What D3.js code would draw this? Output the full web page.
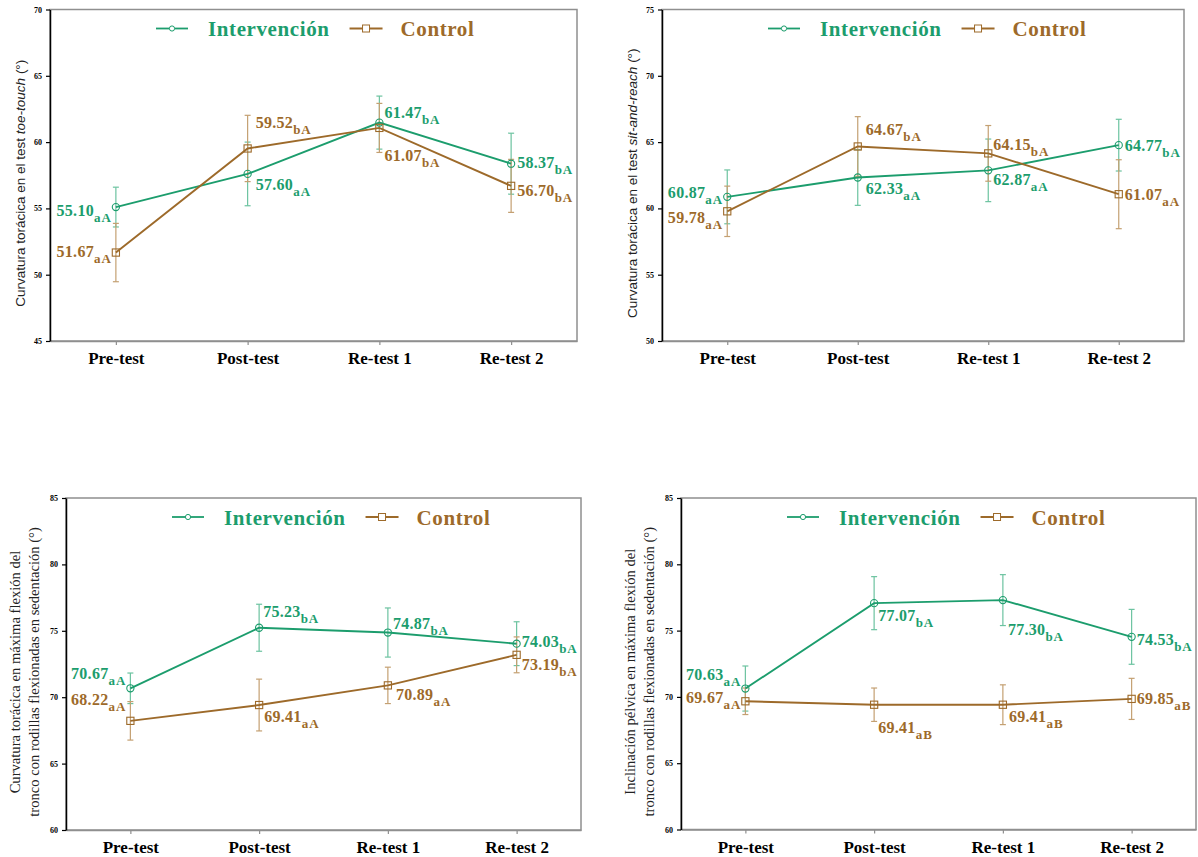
<!DOCTYPE html>
<html>
<head>
<meta charset="utf-8">
<title>Curvatura e inclinación</title>
<script src="https://d3js.org/d3.v7.min.js"></script>
<style>
  body { margin: 0; background: #fff; }
  svg { display: block; }
</style>
</head>
<body>
<div id="chart"></div>
<script>
// ---- data ----
var categories = ["Pre-test", "Post-test", "Re-test 1", "Re-test 2"];

// panel 1: toe-touch
var p1Int = [55.10, 57.60, 61.47, 58.37];
var p1IntErr = [1.5, 2.4, 2.0, 2.3];
var p1IntSig = ["aA", "aA", "bA", "bA"];
var p1Ctl = [51.67, 59.52, 61.07, 56.70];
var p1CtlErr = [2.2, 2.5, 1.85, 2.0];
var p1CtlSig = ["aA", "bA", "bA", "bA"];

// panel 2: sit-and-reach
var p2Int = [60.87, 62.33, 62.87, 64.77];
var p2IntErr = [2.03, 2.1, 2.36, 1.95];
var p2IntSig = ["aA", "aA", "aA", "bA"];
var p2Ctl = [59.78, 64.67, 64.15, 61.07];
var p2CtlErr = [1.9, 2.25, 2.1, 2.6];
var p2CtlSig = ["aA", "bA", "bA", "aA"];

// panel 3: curvatura torácica sedentación
var p3Int = [70.67, 75.23, 74.87, 74.03];
var p3IntErr = [1.15, 1.77, 1.85, 1.65];
var p3IntSig = ["aA", "bA", "bA", "bA"];
var p3Ctl = [68.22, 69.41, 70.89, 73.19];
var p3CtlErr = [1.45, 1.95, 1.37, 1.35];
var p3CtlSig = ["aA", "aA", "aA", "bA"];

// panel 4: inclinación pélvica
var p4Int = [70.63, 77.07, 77.30, 74.53];
var p4IntErr = [1.7, 2.0, 1.92, 2.07];
var p4IntSig = ["aA", "bA", "bA", "bA"];
var p4Ctl = [69.67, 69.41, 69.41, 69.85];
var p4CtlErr = [1.0, 1.26, 1.5, 1.55];
var p4CtlSig = ["aA", "aB", "aB", "aB"];

var legendNames = ["Intervención", "Control"];

// ---- label placement (dx, dy from the point, anchor) ----
var place1 = {
  int: [[-4, 9, "end"], [8, 16, "start"], [5, -5, "start"], [6, 4, "start"]],
  ctl: [[-4, 4, "end"], [8, -20, "start"], [5, 33, "start"], [6, 10, "start"]]
};
var place2 = {
  int: [[-4, 1, "end"], [8, 16, "start"], [5, 15, "start"], [6, 6, "start"]],
  ctl: [[-4, 12, "end"], [8, -11, "start"], [5, -3, "start"], [6, 6, "start"]]
};
var place3 = {
  int: [[-4, -9, "end"], [4, -11, "start"], [5, -4, "start"], [5, 3, "start"]],
  ctl: [[-4, -16, "end"], [5, 17, "start"], [8, 15, "start"], [5, 15, "start"]]
};
var place4 = {
  int: [[-4, -9, "end"], [4, 18, "start"], [5, 35, "start"], [5, 8, "start"]],
  ctl: [[-4, 2, "end"], [4, 28, "start"], [6, 17, "start"], [5, 5, "start"]]
};

var serif = "'Liberation Serif', 'Times New Roman', serif";
var sans = "'Liberation Sans', Arial, sans-serif";
var green = "#1c9d6d", greenLight = "#6cc3a0";
var brown = "#9d6a2a", brownLight = "#c4a072";
var frameColor = "#8f8f8f";

var svg = d3.select("#chart").append("svg")
  .attr("width", 1198)
  .attr("height", 857);

function drawPanel(p) {
  var x = d3.scalePoint().domain(categories).range([p.left, p.right]).padding(0.5);
  var y = d3.scaleLinear().domain(p.domain).range([p.bottom, p.top]);
  var g = svg.append("g");

  // frame
  g.append("rect")
    .attr("x", p.left).attr("y", p.top)
    .attr("width", p.right - p.left).attr("height", p.bottom - p.top)
    .attr("fill", "none").attr("stroke", frameColor).attr("stroke-width", 1.5);

  // x axis
  var xa = g.append("g")
    .attr("transform", "translate(0," + p.bottom + ")")
    .call(d3.axisBottom(x).tickSize(4).tickSizeOuter(0).tickPadding(7));
  xa.select(".domain").attr("stroke", frameColor).attr("stroke-width", 1.5);
  xa.selectAll(".tick line").attr("stroke", frameColor).attr("stroke-width", 1.2);
  xa.selectAll("text")
    .attr("font-family", serif).attr("font-weight", "bold")
    .attr("font-size", 17).attr("fill", "#000");

  // y axis
  var ya = g.append("g")
    .attr("transform", "translate(" + p.left + ",0)")
    .call(d3.axisLeft(y).tickValues(d3.range(p.domain[0], p.domain[1] + 1, 5))
      .tickSize(4).tickSizeOuter(0).tickPadding(4));
  ya.select(".domain").attr("stroke", "#000").attr("stroke-width", 1.5);
  ya.selectAll(".tick line").attr("stroke", "#000").attr("stroke-width", 1.2);
  ya.selectAll("text")
    .attr("font-family", serif).attr("font-weight", "bold")
    .attr("font-size", 8).attr("fill", "#000");

  // y title
  var cy = (p.top + p.bottom) / 2 + 8;
  p.title.forEach(function (line, k) {
    var bx = p.left - (p.title.length == 1 ? 25 : (k == 0 ? 46 : 27));
    var t = g.append("text")
      .attr("transform", "translate(" + bx + "," + cy + ") rotate(-90)")
      .attr("text-anchor", "middle")
      .attr("font-family", p.titleFont).attr("font-size", p.titleSize).attr("fill", "#222");
    line.forEach(function (part) {
      t.append("tspan").attr("font-style", part[1] ? "italic" : "normal").text(part[0]);
    });
  });

  var series = [
    { vals: p.intV, errs: p.intE, sigs: p.intS, color: green, light: greenLight, mark: "circle", pos: p.place.int },
    { vals: p.ctlV, errs: p.ctlE, sigs: p.ctlS, color: brown, light: brownLight, mark: "square", pos: p.place.ctl }
  ];

  var line = d3.line()
    .x(function (d, i) { return x(categories[i]); })
    .y(function (d) { return y(d); });

  series.forEach(function (s) {
    var eb = g.append("g").attr("stroke", s.light).attr("stroke-width", 1.2);
    s.vals.forEach(function (v, i) {
      var cx = x(categories[i]);
      eb.append("line").attr("x1", cx).attr("x2", cx).attr("y1", y(v - s.errs[i])).attr("y2", y(v + s.errs[i]));
      eb.append("line").attr("x1", cx - 3).attr("x2", cx + 3).attr("y1", y(v - s.errs[i])).attr("y2", y(v - s.errs[i]));
      eb.append("line").attr("x1", cx - 3).attr("x2", cx + 3).attr("y1", y(v + s.errs[i])).attr("y2", y(v + s.errs[i]));
    });
  });

  series.forEach(function (s) {
    g.append("path").datum(s.vals)
      .attr("d", line).attr("fill", "none")
      .attr("stroke", s.color).attr("stroke-width", 1.9);
    s.vals.forEach(function (v, i) {
      var cx = x(categories[i]), cyy = y(v);
      if (s.mark == "circle") {
        g.append("circle").attr("cx", cx).attr("cy", cyy).attr("r", 3.6)
          .attr("fill", "none").attr("stroke", s.color).attr("stroke-width", 1.1);
      } else {
        g.append("rect").attr("x", cx - 3.6).attr("y", cyy - 3.6).attr("width", 7.2).attr("height", 7.2)
          .attr("fill", "none").attr("stroke", s.color).attr("stroke-width", 1.1);
      }
    });
  });

  // value labels
  series.forEach(function (s) {
    s.vals.forEach(function (v, i) {
      var pos = s.pos[i];
      var t = g.append("text")
        .attr("x", x(categories[i]) + pos[0])
        .attr("y", y(v) + pos[1])
        .attr("text-anchor", pos[2])
        .attr("font-family", serif).attr("font-weight", "bold")
        .attr("fill", s.color);
      t.append("tspan").attr("font-size", 16).attr("letter-spacing", 0.3).text(v.toFixed(2));
      t.append("tspan").attr("font-size", 13).attr("letter-spacing", 1).attr("dy", 6).text(s.sigs[i]);
    });
  });

  // legend
  var lx = p.left + 106, ly = p.top + 19;
  var lg = g.append("g");
  lg.append("line").attr("x1", lx).attr("x2", lx + 32).attr("y1", ly).attr("y2", ly)
    .attr("stroke", green).attr("stroke-width", 1.8);
  lg.append("circle").attr("cx", lx + 16).attr("cy", ly).attr("r", 2.6)
    .attr("fill", "#fff").attr("stroke", green).attr("stroke-width", 1);
  var t1 = lg.append("text").attr("x", lx + 52).attr("y", ly + 7.5)
    .attr("font-family", serif).attr("font-weight", "bold").attr("font-size", 21)
    .attr("letter-spacing", 0.6).attr("fill", green).text(legendNames[0]);
  var cx2 = lx + 52 + t1.node().getComputedTextLength() + 20;
  lg.append("line").attr("x1", cx2).attr("x2", cx2 + 33).attr("y1", ly).attr("y2", ly)
    .attr("stroke", brown).attr("stroke-width", 1.8);
  lg.append("rect").attr("x", cx2 + 13).attr("y", ly - 3.5).attr("width", 7).attr("height", 7)
    .attr("fill", "#fff").attr("stroke", brown).attr("stroke-width", 1);
  lg.append("text").attr("x", cx2 + 51).attr("y", ly + 7.5)
    .attr("font-family", serif).attr("font-weight", "bold").attr("font-size", 21)
    .attr("letter-spacing", 0.6).attr("fill", brown).text(legendNames[1]);
}

drawPanel({
  left: 50, right: 577, top: 9.5, bottom: 341, domain: [45, 70],
  title: [[["Curvatura torácica en el test ", false], ["toe-touch", true], [" (°)", false]]],
  titleFont: sans, titleSize: 13.5,
  intV: p1Int, intE: p1IntErr, intS: p1IntSig,
  ctlV: p1Ctl, ctlE: p1CtlErr, ctlS: p1CtlSig, place: place1
});
drawPanel({
  left: 662, right: 1184, top: 9.5, bottom: 341, domain: [50, 75],
  title: [[["Curvatura torácica en el test ", false], ["sit-and-reach", true], [" (°)", false]]],
  titleFont: sans, titleSize: 13.5,
  intV: p2Int, intE: p2IntErr, intS: p2IntSig,
  ctlV: p2Ctl, ctlE: p2CtlErr, ctlS: p2CtlSig, place: place2
});
drawPanel({
  left: 66, right: 581, top: 498, bottom: 830, domain: [60, 85],
  title: [[["Curvatura torácica en máxima flexión del", false]],
          [["tronco con rodillas flexionadas en sedentación (°)", false]]],
  titleFont: serif, titleSize: 14.6,
  intV: p3Int, intE: p3IntErr, intS: p3IntSig,
  ctlV: p3Ctl, ctlE: p3CtlErr, ctlS: p3CtlSig, place: place3
});
drawPanel({
  left: 681, right: 1196, top: 498, bottom: 829.5, domain: [60, 85],
  title: [[["Inclinación pélvica en máxima flexión del", false]],
          [["tronco con rodillas flexionadas en sedentación (°)", false]]],
  titleFont: serif, titleSize: 14.6,
  intV: p4Int, intE: p4IntErr, intS: p4IntSig,
  ctlV: p4Ctl, ctlE: p4CtlErr, ctlS: p4CtlSig, place: place4
});
</script>
</body>
</html>
